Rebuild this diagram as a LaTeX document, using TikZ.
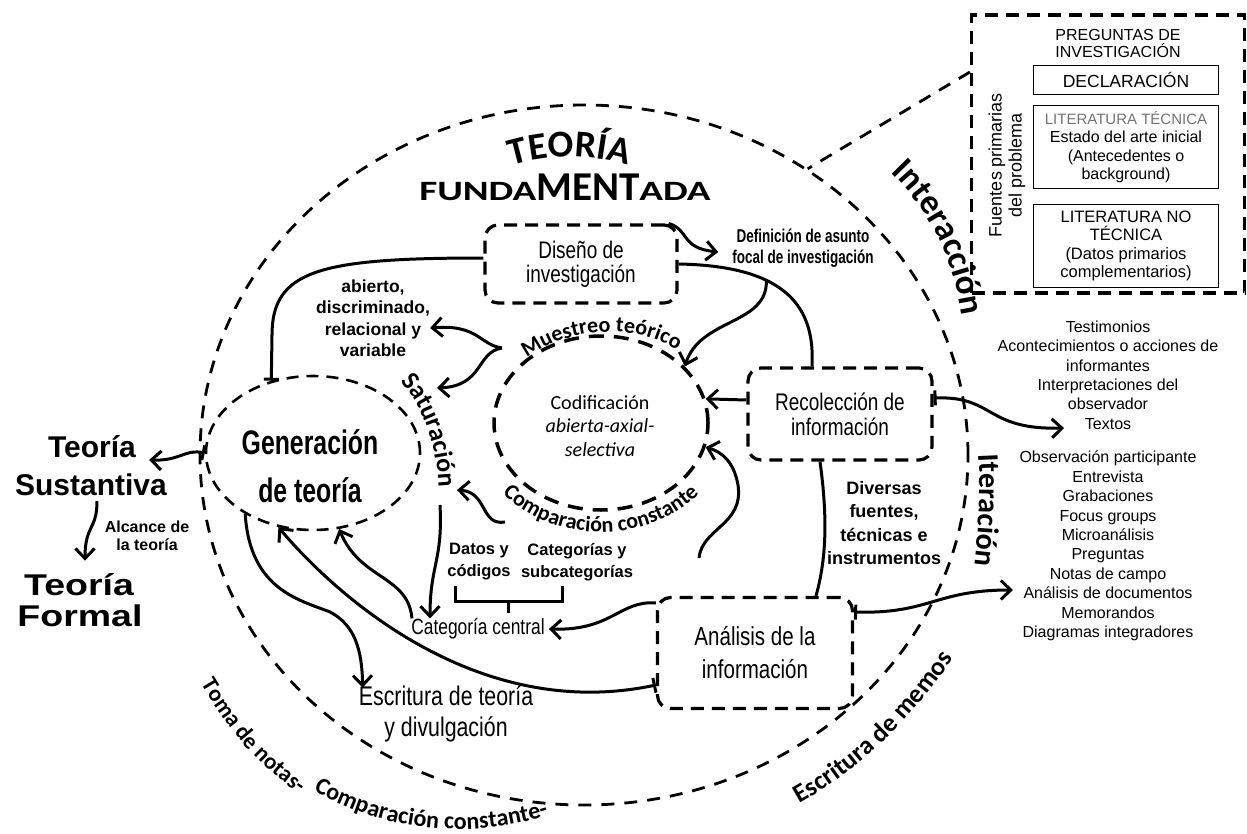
\documentclass[tikz,border=0pt]{standalone}
\usepackage{fontspec}
\setmainfont{Liberation Sans}
\newfontfamily\condf[FakeStretch=0.79]{Liberation Sans}
\newfontfamily\condn[FakeStretch=0.73]{Liberation Sans}
\newfontfamily\widef[FakeStretch=1.25]{Liberation Sans}
\newfontfamily\carl{Carlito}
\newfontfamily\carlw[FakeStretch=1.4]{Carlito}
\usetikzlibrary{arrows.meta,decorations.text,shapes.geometric,calc}
\newcommand\fsz[2]{\fontsize{#1}{#2}\selectfont}
\newcommand\fTEO{\carl\bfseries\fsz{38}{38}}
\newcommand\fInt{\carl\bfseries\fsz{35}{35}}
\newcommand\fIte{\carl\bfseries\fsz{30}{30}}
\newcommand\fBot{\carl\bfseries\fsz{24}{24}}
\newcommand\fToma{\carl\bfseries\fsz{23}{23}}
\newcommand\fMem{\carl\bfseries\fsz{26}{26}}
\newcommand\fIn{\carl\bfseries\fsz{22}{22}}
\newcommand\fSat{\carl\bfseries\fsz{26}{26}}
\begin{document}
\begin{tikzpicture}[x=1pt,y=-1pt,
  conn/.style={line width=3pt},
  arr/.style={line width=3pt,-{Straight Barb[length=10pt,width=19pt]}},
  barr/.style={line width=3pt,{Bar[width=15pt]}-{Straight Barb[length=10pt,width=19pt]}},
  bar/.style={line width=3pt,{Bar[width=15pt]}-},
  dbox/.style={draw,line width=3.2pt,dash pattern=on 13pt off 8pt,rounded corners=13pt,inner sep=0pt,align=center},
  sbox/.style={draw,line width=1.5pt,inner sep=0pt,align=center},
  txt/.style={align=center,inner sep=0pt}]
\useasboundingbox (0,0) rectangle (1247,833);

% ---------- main shapes
\node[ellipse,draw,line width=2.8pt,dash pattern=on 13pt off 10pt,minimum width=768pt,minimum height=700pt,inner sep=0pt] (outer) at (584,455) {};
\node[ellipse,draw,line width=2.6pt,dash pattern=on 12pt off 8pt,minimum width=214pt,minimum height=154pt,inner sep=0pt] (gen) at (313,453) {};
\node[txt,font=\condn\bfseries\fsz{34}{48}] (gentxt) at (310,466) {Generación\\de teoría};
\node[ellipse,draw,line width=3.5pt,dash pattern=on 15pt off 10pt,minimum width=214pt,minimum height=174pt,inner sep=0pt] (cod) at (601,423) {};
\node[txt,font=\carl\fsz{20}{23.5}] (codtxt) at (600,426) {Codificación\\\textit{abierta-axial-}\\\textit{selectiva}};

\node[dbox,minimum width=192pt,minimum height=78pt,font=\condf\fsz{24}{24}] (dis) at (581,264) {Diseño de\\investigación};
\node[dbox,minimum width=184pt,minimum height=92pt,font=\condf\fsz{24}{25}] (rec) at (840,414) {Recolección de\\información};
\node[dbox,minimum width=195pt,minimum height=111pt,font=\condf\fsz{26}{33}] (ana) at (755,653) {Análisis de la\\información};

% ---------- top right box
\node[draw,line width=3.2pt,dash pattern=on 13pt off 8pt,minimum width=273pt,minimum height=278pt,inner sep=0pt] (box) at (1108,154) {};
\node[txt,font=\fsz{16}{17}] (pq) at (1118,43) {PREGUNTAS DE\\INVESTIGACIÓN};
\node[sbox,minimum width=185pt,minimum height=29pt,font=\fsz{17.5}{18}] (decl) at (1126,80) {DECLARACIÓN};
\node[sbox,minimum width=185pt,minimum height=83pt,font=\fsz{16}{18.5}] (lt) at (1126,147) {{\color{black!55}\fsz{15}{18.5}LITERATURA TÉCNICA}\\Estado del arte inicial\\(Antecedentes o\\background)};
\node[sbox,minimum width=185pt,minimum height=83pt,font=\fsz{16.5}{18.5}] (lnt) at (1126,246) {LITERATURA NO\\TÉCNICA\\(Datos primarios\\complementarios)};
\node[txt,rotate=90,font=\fsz{18}{20}] (fue) at (1007,165) {Fuentes primarias\\del problema};

% ---------- text nodes
\node[txt,font=\fsz{16}{19.4}] (l1) at (1108,375) {Testimonios\\Acontecimientos o acciones de\\informantes\\Interpretaciones del\\observador\\Textos};
\node[txt,font=\fsz{16}{19.4}] (l2) at (1108,546) {Observación participante\\Entrevista\\Grabaciones\\Focus groups\\Microanálisis\\Preguntas\\Notas de campo\\Análisis de documentos\\Memorandos\\Diagramas integradores};
\node[txt,font=\bfseries\fsz{17.5}{21.5}] (abi) at (373,318) {abierto,\\discriminado,\\relacional y\\variable};
\node[txt,font=\condn\bfseries\fsz{18.5}{20.5}] (def) at (803,248) {Definición de asunto\\focal de investigación};
\node[txt,font=\bfseries\fsz{18}{23.5}] (div) at (884,523) {Diversas\\fuentes,\\técnicas e\\instrumentos};
\node[txt,font=\bfseries\fsz{16.5}{22}] (dc) at (479,562) {Datos y\\códigos};
\node[txt,font=\bfseries\fsz{16.5}{22}] (cs) at (577,562) {Categorías y\\subcategorías};
\node[txt,font=\condf\fsz{22}{22}] (cat) at (478,629) {Categoría central};
\node[txt,font=\condf\fsz{27}{31}] (esc) at (446,714) {Escritura de teoría\\y divulgación};
\node[txt,font=\bfseries\fsz{30}{30}] (sus1) at (92,447) {Teoría};
\node[txt,font=\bfseries\fsz{30}{30}] (sus2) at (91,485) {Sustantiva};
\node[txt,font=\bfseries\fsz{16}{18}] (alc) at (147,536) {Alcance de\\la teoría};
\node[txt,font=\widef\bfseries\fsz{30}{30}] (for1) at (79,585) {Teoría};
\node[txt,font=\widef\bfseries\fsz{30}{30}] (for2) at (80,616) {Formal};
\node[txt,anchor=base] (fund) at (565,200) {{\carlw\bfseries\fsz{28}{28}FUNDA}{\carl\bfseries\fsz{41}{41}MENT}{\carlw\bfseries\fsz{28}{28}ADA}};

% ---------- curved labels
\path[decorate,decoration={text along path,text align=center,text={|\fTEO|TEORÍA}}] (495,172) .. controls (540,152) and (600,152) .. (645,172);
\path[decorate,decoration={text along path,text align=center,text={|\fInt|Interacción}}] (848,138) .. controls (925,190) and (966,262) .. (966,370);
\path[decorate,decoration={text along path,text align=center,text={|\fIte|Iteración}}] (976,420) .. controls (982,480) and (980,530) .. (970,600);
\path[decorate,decoration={text along path,text align=center,text={|\fToma|Toma de notas-}}] (186,656) .. controls (220,724) and (263,776) .. (326,810);
\path[decorate,decoration={text along path,text align=center,text={|\fBot|Comparación constante-}}] (290,775) .. controls (370,833) and (475,846) .. (575,806);
\path[decorate,decoration={text along path,text align=center,text={|\fMem|Escritura de memos}}] (772,818) .. controls (850,782) and (915,722) .. (970,632);
\path[decorate,decoration={text along path,text align=center,text={|\fIn|Muestreo teórico}}] (510,372) .. controls (560,322) and (650,318) .. (694,364);
\path[decorate,decoration={text along path,text align=center,text={|\fIn|Comparación constante}}] (484,469) arc[start angle=155,end angle=25,x radius=129,y radius=109];
\path[decorate,decoration={text along path,text align=center,text={|\fSat|Saturación}}] (376,360) .. controls (425,393) and (443,450) .. (438,520);

% ---------- coordinates for free ends
\coordinate (mj) at (502,348);
\coordinate (sat) at (437,388);
\coordinate (cj) at (505,522);
\coordinate (sat2) at (457,490);
\coordinate (fj) at (699,558);
\coordinate (sj) at (440,505);
\coordinate (t1) at (1064,428);
\coordinate (t2) at (1013,590);

% ---------- connectors
\draw[arr] ([xshift=-10pt]dis.north east) .. controls (690,230) and (680,248) .. ([xshift=-14pt,yshift=-4pt]def.west);
\draw[conn] (dis.east) .. controls (790,266) and (815,310) .. ([xshift=-28pt]rec.north) coordinate[pos=0.35] (j1);
\draw[arr] (j1) .. controls (768,325) and (700,318) .. (cod.34);
\draw[bar] (gen.120) -- (272,335) .. controls (272,270) and (320,258) .. ([yshift=6pt]dis.west);
\draw[barr] (gen.180) .. controls (185,449) and (180,461) .. ([xshift=13pt,yshift=-13pt]sus1.east);
\draw[arr] ([xshift=6pt,yshift=-5pt]sus2.south) .. controls (97,530) and (85,525) .. ([xshift=6pt,yshift=13pt]for1.north);
\draw[arr] (mj) .. controls (480,345) and (478,324) .. ([yshift=-10pt]abi.east);
\draw[arr] (mj) .. controls (476,352) and (484,386) .. (sat);
\draw[arr] (cj) .. controls (480,526) and (488,492) .. (sat2);
\draw[arr] (fj) .. controls (702,528) and (744,525) .. (738,485) .. controls (734,462) and (722,452) .. (cod.-13);
\draw[arr] ([yshift=14pt]rec.west) -- (cod.13);
\draw[barr] ([yshift=16pt]rec.east) .. controls (995,396) and (985,430) .. (t1);
\draw[conn] ([xshift=-20pt]rec.south) .. controls (828,520) and (826,560) .. ([xshift=61pt]ana.north);
\draw[barr] ([yshift=41pt]ana.east) .. controls (930,614) and (935,590) .. (t2);
\draw[arr] ([yshift=50pt]ana.west) .. controls (620,600) and (612,631) .. ([xshift=4pt]cat.east);
\draw[barr] ([yshift=-32pt]ana.west) .. controls (480,722) and (340,600) .. (gen.245);
\draw[arr] (gen.222) .. controls (250,590) and (300,600) .. (330,612) .. controls (355,625) and (362,650) .. ([xshift=4pt,yshift=-2pt]esc.north west);
\draw[arr] ([xshift=-66pt]cat.north) .. controls (408,575) and (360,580) .. (gen.-71);
\draw[arr] (sj) .. controls (443,560) and (430,565) .. ([xshift=-48pt]cat.north);
\draw[line width=3pt] (455,586) -- (455,601) -- (562,601) -- (562,586);
\draw[line width=3pt] (508,601) -- (508,613);
\draw[line width=2.8pt,dash pattern=on 13pt off 10pt] ([yshift=82pt]box.west) -- (outer.52);
\end{tikzpicture}
\end{document}
